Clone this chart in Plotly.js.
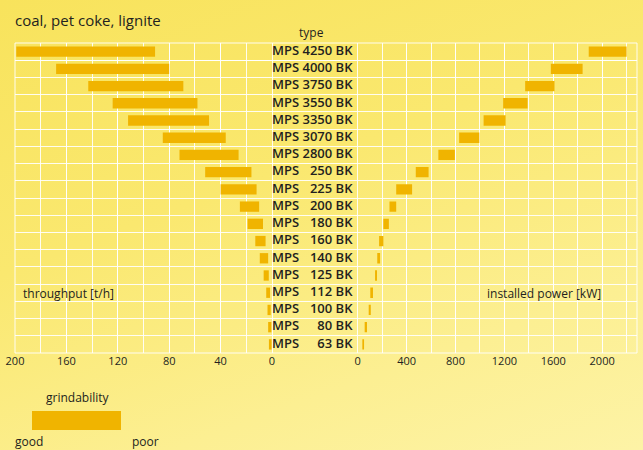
<!DOCTYPE html>
<html>
<head>
<meta charset="utf-8">
<script src="https://cdn.plot.ly/plotly-3.0.1.min.js"></script>
<style>
  html, body { margin: 0; padding: 0; }
  body { width: 643px; height: 450px; overflow: hidden;
         background: linear-gradient(160deg, #f8e35c 0%, #fae86f 40%, #fcef92 75%, #fdf3a6 100%); }
  #chart { width: 643px; height: 450px; }
</style>
</head>
<body>
<div id="chart"></div>
<script>
// ---- data ----
const types = ["4250", "4000", "3750", "3550", "3350", "3070", "2800", "250", "225",
               "200", "180", "160", "140", "125", "112", "100", "80", "63"];
const throughputLow  = [91, 80, 69, 58, 49, 36, 26, 16, 12, 10, 7, 5, 3, 2.5, 1.5, 1, 0.5, 0.3];
const throughputHigh = [199, 168, 143, 124, 112, 85, 72, 52, 40, 25, 19, 13, 9.5, 6.5, 4.5, 3.5, 3, 2.4];
const powerLow  = [1890, 1580, 1370, 1190, 1030, 830, 660, 475, 315, 260, 210, 175, 160, 142, 103, 90, 57, 38];
const powerHigh = [2200, 1840, 1610, 1390, 1210, 995, 795, 580, 445, 315, 255, 210, 183, 158, 125, 107, 76, 52];
const throughputTicks = [200, 160, 120, 80, 40, 0];
const powerTicks = [0, 400, 800, 1200, 1600, 2000];

// ---- build ----
const FIG = "\u2007";
const labels = types.map(t => "MPS " + FIG.repeat(4 - t.length) + t + " BK");
const barColor = "#f0b400";
const gridCol = "rgba(255,255,255,0.9)";
const fontFam = "'Open Sans', sans-serif";
const textCol = "#231f20";

const traces = [
  { type: "bar", orientation: "h", y: labels,
    base: throughputLow, x: throughputHigh.map((h, i) => h - throughputLow[i]),
    xaxis: "x", yaxis: "y", width: 0.6, marker: { color: barColor },
    hoverinfo: "skip" },
  { type: "scatter", mode: "text", y: labels, x: labels.map(() => 0),
    text: labels, textposition: "middle right",
    textfont: { family: fontFam, size: 13, color: textCol, weight: 600 },
    xaxis: "x2", yaxis: "y", hoverinfo: "skip", cliponaxis: false },
  { type: "bar", orientation: "h", y: labels,
    base: powerLow, x: powerHigh.map((h, i) => h - powerLow[i]),
    xaxis: "x3", yaxis: "y", width: 0.6, marker: { color: barColor },
    hoverinfo: "skip" }
];

const tickFont = { family: fontFam, size: 11, color: textCol };
const d1 = 257 / 622, d2 = 342.7 / 622;

const layout = {
  width: 643, height: 450,
  margin: { l: 15, r: 6, t: 43, b: 97 },
  paper_bgcolor: "rgba(0,0,0,0)", plot_bgcolor: "rgba(0,0,0,0)",
  showlegend: false, barmode: "overlay",
  font: { family: fontFam, color: textCol },
  xaxis: { domain: [0, d1], range: [200, 0], tickvals: throughputTicks,
           ticktext: throughputTicks.map(String), tickfont: tickFont,
           showgrid: true, gridcolor: gridCol, gridwidth: 1,
           minor: { dtick: 20, tick0: 0, showgrid: true, gridcolor: gridCol, gridwidth: 1 },
           zeroline: true, zerolinecolor: gridCol, zerolinewidth: 1,
           ticks: "", ticklen: 0, fixedrange: true, anchor: "y" },
  xaxis2: { domain: [d1, d2], range: [0, 1], showgrid: false, zeroline: false,
            showticklabels: false, fixedrange: true, anchor: "y" },
  xaxis3: { domain: [d2, 1], range: [0, 2285], tickvals: powerTicks,
            ticktext: powerTicks.map(String), tickfont: tickFont,
            showgrid: true, gridcolor: gridCol, gridwidth: 1,
            minor: { dtick: 200, tick0: 0, showgrid: true, gridcolor: gridCol, gridwidth: 1 },
            zeroline: true, zerolinecolor: gridCol, zerolinewidth: 1,
            ticks: "", ticklen: 0, fixedrange: true, anchor: "y" },
  yaxis: { type: "category", categoryorder: "array", categoryarray: labels,
           range: [labels.length - 0.5, -0.5], tickson: "boundaries",
           showgrid: true, gridcolor: gridCol, gridwidth: 1,
           showticklabels: false, ticks: "", zeroline: false, fixedrange: true },
  shapes: [
    { type: "rect", xref: "paper", yref: "paper", x0: 0, x1: 1, y0: 0, y1: 1,
      line: { color: gridCol, width: 1 }, fillcolor: "rgba(0,0,0,0)" },
    { type: "rect", xref: "paper", yref: "paper", x0: 17 / 622, x1: 106 / 622,
      y0: -77 / 310, y1: -58 / 310, line: { width: 0 }, fillcolor: barColor }
  ],
  annotations: [
    { text: "coal, pet coke, lignite", xref: "paper", yref: "paper",
      x: -2 / 622, y: (353 - 20) / 310, xanchor: "left", yanchor: "middle",
      showarrow: false, font: { family: fontFam, size: 15, color: textCol } },
    { text: "type", xref: "paper", yref: "paper",
      x: 296.7 / 622, y: (353 - 32) / 310, xanchor: "center", yanchor: "middle",
      showarrow: false, font: { family: fontFam, size: 12, color: textCol } },
    { text: "throughput [t/h]", xref: "paper", yref: "paper",
      x: 6 / 622, y: (353 - 293) / 310, xanchor: "left", yanchor: "middle",
      showarrow: false, font: { family: fontFam, size: 12, color: textCol } },
    { text: "installed power [kW]", xref: "paper", yref: "paper",
      x: 470 / 622, y: (353 - 293) / 310, xanchor: "left", yanchor: "middle",
      showarrow: false, font: { family: fontFam, size: 12, color: textCol } },
    { text: "grindability", xref: "paper", yref: "paper",
      x: 62.5 / 622, y: (353 - 397) / 310, xanchor: "center", yanchor: "middle",
      showarrow: false, font: { family: fontFam, size: 12, color: textCol } },
    { text: "good", xref: "paper", yref: "paper",
      x: 14 / 622, y: (353 - 441) / 310, xanchor: "center", yanchor: "middle",
      showarrow: false, font: { family: fontFam, size: 12, color: textCol } },
    { text: "poor", xref: "paper", yref: "paper",
      x: 130 / 622, y: (353 - 441) / 310, xanchor: "center", yanchor: "middle",
      showarrow: false, font: { family: fontFam, size: 12, color: textCol } }
  ]
};

Plotly.newPlot("chart", traces, layout, { displayModeBar: false, staticPlot: true });
</script>
</body>
</html>
